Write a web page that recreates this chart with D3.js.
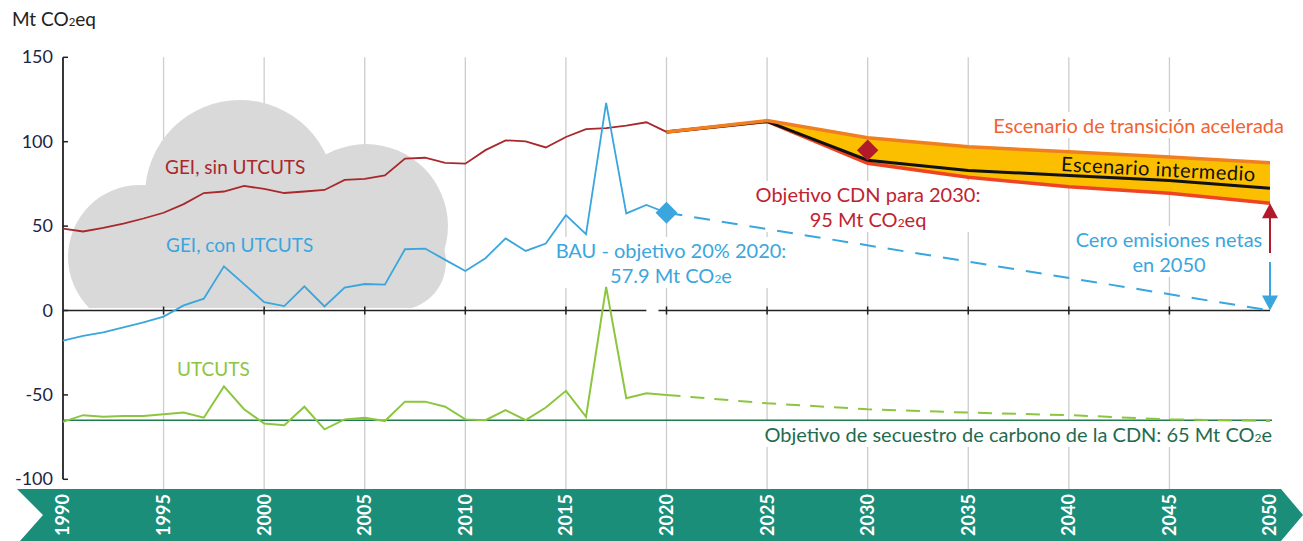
<!DOCTYPE html>
<html>
<head>
<meta charset="utf-8">
<script src="https://cdn.jsdelivr.net/npm/d3@7/dist/d3.min.js"></script>
<style>
  body { margin: 0; background: #fff; }
  svg { display: block; font-family: Lato, "Open Sans", sans-serif; }
</style>
</head>
<body>
<div id="chart"></div>
<script>
// historical years and series (Mt CO2eq)
const years = d3.range(1990, 2021);
const geiSin = [48.5, 46.8, 49, 51.5, 54.5, 57.9, 63, 69.6, 70.5, 73.8, 72, 69.6, 70.5, 71.4, 77.4, 78, 80, 90, 90.5, 87.5, 87, 95, 100.8, 100.2, 96.6, 102.8, 107.5, 108, 109.5, 111.5, 105.8];
const geiCon = [-17.9, -15, -13, -10, -7, -3.6, 3, 7, 26.2, 15.6, 5, 2.6, 14.3, 2.4, 13.5, 15.7, 15.3, 36.3, 36.7, 30, 23.4, 31, 42.7, 35.3, 39.7, 56.5, 45.2, 123, 57.5, 62.5, 57.9];
const utcuts = [-66, -62, -63, -62.5, -62.5, -61.5, -60.5, -63.5, -45, -58.5, -67, -68, -57, -70.4, -64.5, -63.5, -65.5, -54, -54, -57, -64.5, -65, -59, -65, -57.5, -47.6, -63, 14, -52, -49, -50];

// projections
const projYears = [2020, 2025, 2030, 2035, 2040, 2045, 2050];
const utcutsProj = [-50, -55, -58.5, -60.5, -62, -64.5, -65.5];
const scenUpper = [105.8, 112.5, 102.4, 97, 94, 91, 87.5];
const scenLower = [105.8, 112, 87.2, 79, 73.3, 69.4, 63.5];
const scenMid = [105.8, 112, 89, 83, 80, 77, 72.4];
const bauYears = [2020, 2050];
const bauValues = [57.9, 0];

const cdnYear = 2030, cdnTarget = 95;
const sinkTarget = -65;
const redArrow = [34, 63.5];
const blueArrow = [28.7, 0];

const yTicks = [150, 100, 50, 0, -50, -100];
const xTicks = d3.range(1990, 2051, 5);

const width = 1303, height = 541;
const x = d3.scaleLinear().domain([1990, 2050]).range([63, 1270]);
const y = d3.scaleLinear().domain([-100, 150]).range([479.3, 57.3]);

const svg = d3.select("#chart").append("svg")
  .attr("width", width).attr("height", height);

const bandTop = 489;

// gridlines
svg.append("g").selectAll("line")
  .data(xTicks.filter(d => d > 1990 && d < 2050))
  .enter().append("line")
  .attr("x1", d => x(d)).attr("x2", d => x(d))
  .attr("y1", y(150)).attr("y2", bandTop)
  .attr("stroke", "#cdcdcd").attr("stroke-width", 1.3);

// cloud (lumps in data units, radius in px)
const cloudLumps = [
  { yr: 1993.83, v: 31.7, r: 72 },
  { yr: 1998.8, v: 68.4, r: 95 },
  { yr: 2005.06, v: 50, r: 82 },
  { yr: 2006.65, v: 28.7, r: 48 }
];
svg.append("clipPath").attr("id", "cloudClip")
  .append("rect").attr("x", 0).attr("y", 0).attr("width", width).attr("height", y(1.5));
const cloud = svg.append("g").attr("clip-path", "url(#cloudClip)").attr("fill", "#d9d9d9");
cloud.selectAll("circle").data(cloudLumps).enter().append("circle")
  .attr("cx", d => x(d.yr)).attr("cy", d => y(d.v)).attr("r", d => d.r);
cloud.append("rect")
  .attr("x", x(1992.3)).attr("width", x(2006.75) - x(1992.3))
  .attr("y", y(47.7)).attr("height", y(-20) - y(47.7));

const boxLayer = svg.append("g");
const lineLayer = svg.append("g");
const textLayer = svg.append("g");

// zero line with small gap
lineLayer.append("line").attr("x1", x(1990)).attr("x2", x(2019.0))
  .attr("y1", y(0)).attr("y2", y(0)).attr("stroke", "#222").attr("stroke-width", 1.5);
lineLayer.append("line").attr("x1", x(2019.6)).attr("x2", x(2050))
  .attr("y1", y(0)).attr("y2", y(0)).attr("stroke", "#222").attr("stroke-width", 1.5);
lineLayer.selectAll(".xt").data(xTicks.filter(d => d > 1990 && d < 2050)).enter().append("line")
  .attr("x1", d => x(d)).attr("x2", d => x(d))
  .attr("y1", y(0) - 4).attr("y2", y(0) + 4)
  .attr("stroke", "#222").attr("stroke-width", 1.5);

// y axis
lineLayer.append("line").attr("x1", x(1990)).attr("x2", x(1990))
  .attr("y1", y(150)).attr("y2", y(-100)).attr("stroke", "#222").attr("stroke-width", 1.8);
lineLayer.selectAll(".yt").data(yTicks).enter().append("line")
  .attr("x1", x(1990)).attr("x2", x(1990) + 5)
  .attr("y1", d => y(d)).attr("y2", d => y(d))
  .attr("stroke", "#222").attr("stroke-width", 1.5);
textLayer.selectAll(".yl").data(yTicks).enter().append("text")
  .attr("x", 53).attr("y", d => y(d) + 6)
  .attr("text-anchor", "end").attr("font-size", 18)
  .attr("fill", "#1b2544").text(d => d);

// sink target line
lineLayer.append("line").attr("x1", x(1990)).attr("x2", x(2050) + 2)
  .attr("y1", y(sinkTarget)).attr("y2", y(sinkTarget))
  .attr("stroke", "#1f7a4d").attr("stroke-width", 1.6);

const line = d3.line().x(d => x(d[0])).y(d => y(d[1]));
const zip = (a, b) => a.map((d, i) => [d, b[i]]);

// historical lines
lineLayer.append("path").datum(zip(years, utcuts)).attr("d", line)
  .attr("fill", "none").attr("stroke", "#8cc63f").attr("stroke-width", 2);
lineLayer.append("path").datum(zip(projYears, utcutsProj)).attr("d", line)
  .attr("fill", "none").attr("stroke", "#8cc63f").attr("stroke-width", 2)
  .attr("stroke-dasharray", "14,10");
lineLayer.append("path").datum(zip(years, geiSin)).attr("d", line)
  .attr("fill", "none").attr("stroke", "#a8282c").attr("stroke-width", 1.8);
lineLayer.append("path").datum(zip(years, geiCon)).attr("d", line)
  .attr("fill", "none").attr("stroke", "#3aa6dd").attr("stroke-width", 1.8);
lineLayer.append("path").datum(zip(bauYears, bauValues)).attr("d", line)
  .attr("fill", "none").attr("stroke", "#3aa6dd").attr("stroke-width", 2)
  .attr("stroke-dasharray", "16,12");

// scenario band
const scen = projYears.map((d, i) => ({ yr: d, lo: scenLower[i], hi: scenUpper[i], mid: scenMid[i] }));
lineLayer.append("path").datum(scen)
  .attr("d", d3.area().x(d => x(d.yr)).y0(d => y(d.lo)).y1(d => y(d.hi)))
  .attr("fill", "#fbbf00");
lineLayer.append("path").datum(zip(projYears, scenLower)).attr("d", line)
  .attr("fill", "none").attr("stroke", "#ef4423").attr("stroke-width", 3.5);
lineLayer.append("path").datum(zip(projYears, scenMid)).attr("d", line)
  .attr("fill", "none").attr("stroke", "#111").attr("stroke-width", 3);
lineLayer.append("path").datum(zip(projYears, scenUpper)).attr("d", line)
  .attr("fill", "none").attr("stroke", "#f07f22").attr("stroke-width", 3.5);

// markers
const diamond = d3.symbol().type(d3.symbolSquare);
lineLayer.append("path").attr("d", diamond.size(240)())
  .attr("transform", `translate(${x(2020)},${y(57.9)}) rotate(45)`)
  .attr("fill", "#3aa6dd");
lineLayer.append("path").attr("d", diamond.size(230)())
  .attr("transform", `translate(${x(cdnYear)},${y(cdnTarget)}) rotate(45)`)
  .attr("fill", "#b21a2b");

// arrows at 2050
function arrow(vals, color) {
  const x0 = x(2050), ya = y(vals[0]), yb = y(vals[1]);
  const dir = yb > ya ? 1 : -1;
  lineLayer.append("line").attr("x1", x0).attr("x2", x0)
    .attr("y1", ya).attr("y2", yb - dir * 12)
    .attr("stroke", color).attr("stroke-width", 2);
  lineLayer.append("path")
    .attr("d", `M${x0},${yb} L${x0 - 8},${yb - dir * 15} L${x0 + 8},${yb - dir * 15} Z`)
    .attr("fill", color);
}
arrow(redArrow, "#b21a2b");
arrow(blueArrow, "#3aa6dd");

// texts; parts given as ["CO", ["2"], "e"] -> inner arrays are subscripts
function label(lines, xp, yp, color, anchor, boxed, size) {
  const t = textLayer.append("text").attr("x", xp).attr("y", yp)
    .attr("fill", color).attr("font-size", size || 18).attr("text-anchor", anchor);
  lines.forEach((ln, i) => {
    const ts = t.append("tspan").attr("x", xp).attr("dy", i === 0 ? 0 : 25);
    ln.forEach(part => {
      if (Array.isArray(part)) ts.append("tspan").attr("font-size", (size || 18) * 0.6).text(part[0]);
      else ts.append("tspan").text(part);
    });
  });
  if (boxed) {
    const b = t.node().getBBox();
    boxLayer.append("rect").attr("x", b.x - 3).attr("y", b.y - 1)
      .attr("width", b.width + 6).attr("height", b.height + 2).attr("fill", "#fff");
  }
  return t;
}

label([["Mt CO", ["2"], "eq"]], 12, 26, "#222", "start", false, 19);
label([["GEI, sin UTCUTS"]], 165, 174, "#a8282c", "start", false, 19);
label([["GEI, con UTCUTS"]], 166, 252, "#3aa6dd", "start", false, 19);
label([["UTCUTS"]], 177, 376, "#8cc63f", "start", false, 19);
label([["BAU - objetivo 20% 2020:"], ["57.9 Mt CO", ["2"], "e"]], 671, 258, "#3aa6dd", "middle", true, 20);
label([["Objetivo CDN para 2030:"], ["95 Mt CO", ["2"], "eq"]], 868, 202, "#c0232f", "middle", true, 20);
label([["Escenario de transición acelerada"]], 1284, 133, "#f26231", "end", true, 20);
label([["Cero emisiones netas"], ["en 2050"]], 1169, 247, "#3aa6dd", "middle", true, 20);
label([["Objetivo de secuestro de carbono de la CDN: 65 Mt CO", ["2"], "e"]], 1272, 442, "#1f6b4f", "end", true, 20);
textLayer.append("text")
  .attr("transform", `translate(${x(2039.6)},${y(82.6)}) rotate(3)`)
  .attr("font-size", 20).attr("letter-spacing", 0.5).attr("fill", "#111").text("Escenario intermedio");

// bottom band
const bx0 = x(1990), bx1 = x(2050);
const bandMid = (bandTop + height) / 2;
svg.append("path")
  .attr("d", `M${bx0 - 46},${bandTop} L${bx1 + 11},${bandTop} L${width},${bandMid} L${bx1 + 11},${height} L${bx0 - 43},${height} L${bx0 - 20},${bandMid} Z`)
  .attr("fill", "#1a8e79");
svg.append("g").selectAll("text").data(xTicks).enter().append("text")
  .attr("transform", d => `translate(${x(d)},${bandMid}) rotate(-90)`)
  .attr("text-anchor", "middle").attr("dy", "0.36em")
  .attr("font-size", 18).attr("font-weight", 700).attr("fill", "#fff")
  .text(d => d);
</script>
</body>
</html>
